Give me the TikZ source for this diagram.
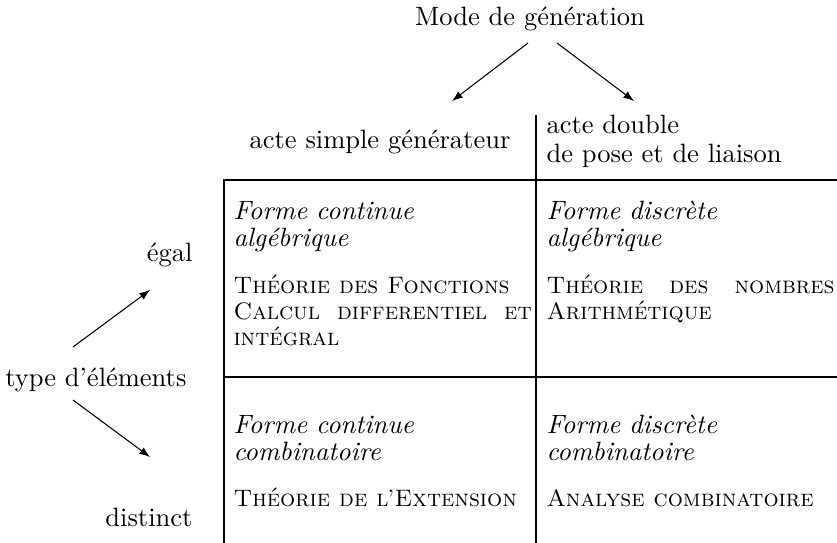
\documentclass[tikz,border=0pt]{standalone}
\usepackage{fontspec}

\begin{document}
\begin{tikzpicture}[x=0.3774pt, y=-0.3774pt,
    lab/.style = {inner sep=0pt},
    form/.style = {inner sep=0pt, text width=110pt, align=left, font=\itshape\fontsize{10}{10.2}\selectfont},
    theo/.style = {inner sep=0pt, text width=112.5pt, align=justify, font=\scshape\fontsize{9}{10}\selectfont,
        execute at begin node={\hyphenpenalty=10000}},
    theoR/.style = {theo, text width=108.7pt},
    arr/.style = {-latex}]
    \useasboundingbox (0,0) rectangle (837,543);

    \node[lab] (mode) at (530,25) [anchor=base] {Mode de génération};
    \node[lab] (simple) at (380,148) [anchor=base] {acte simple générateur};
    \node[lab] (double) at (546,133) [anchor=base west, text width=110pt, align=left,
        font=\fontsize{10}{11.3}\selectfont] {acte double\\de pose et de liaison};

    \node[lab] (egal) at (193,261) [anchor=base east] {égal};
    \node[lab] (type) at (187,386) [anchor=base east] {type d'éléments};
    \node[lab] (distinct) at (193,526) [anchor=base east] {distinct};

    \node[form] (f1) at (233,219) [anchor=base west] {Forme continue\\algébrique};
    \node[theo] (t1) at (233,293) [anchor=base west] {Théorie des Fonctions\\Calcul differentiel et intégral};
    \node[form] (f2) at (546,219) [anchor=base west] {Forme discrète\\algébrique};
    \node[theoR] (t2) at (546,293) [anchor=base west] {Théorie des nombres Arithmétique};
    \node[form] (f3) at (233,433) [anchor=base west] {Forme continue\\combinatoire};
    \node[theo] (t3) at (233,506) [anchor=base west] {Théorie de l'Extension};
    \node[form] (f4) at (546,433) [anchor=base west] {Forme discrète\\combinatoire};
    \node[theoR] (t4) at (546,506) [anchor=base west] {Analyse combinatoire};

    \coordinate (m1) at (528,43);
    \coordinate (m2) at (557,43);
    \coordinate (g1) at (452,101);
    \coordinate (g2) at (634,101);
    \coordinate (e1) at (73,347);
    \coordinate (e2) at (73,400);
    \coordinate (h1) at (150,290);
    \coordinate (h2) at (150,457);

    \draw[arr] (m1) -- (g1);
    \draw[arr] (m2) -- (g2);
    \draw[arr] (e1) -- (h1);
    \draw[arr] (e2) -- (h2);

    \draw (536,115) -- (536,543);
    \draw (224,543) -- (224,180) -- (837,180);
    \draw (224,377) -- (837,377);
\end{tikzpicture}
\end{document}
